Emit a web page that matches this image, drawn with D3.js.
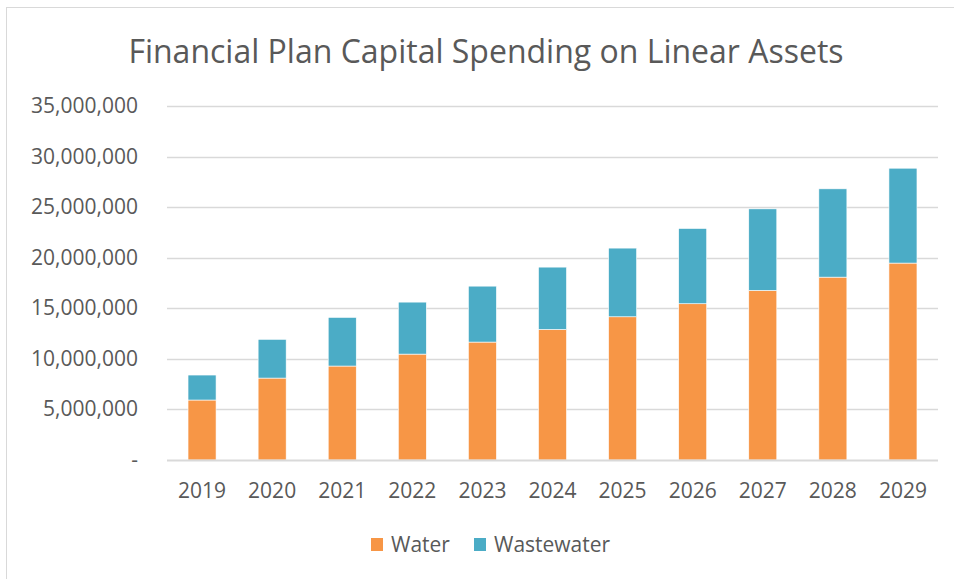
<!DOCTYPE html>
<html>
<head>
<meta charset="utf-8">
<script src="https://cdn.jsdelivr.net/npm/d3@7"></script>
<style>
  body { margin: 0; background: #fff; }
  svg text { font-family: "Open Sans", "Noto Sans", sans-serif; fill: #595959; }
</style>
</head>
<body>
<script>
// Data
const years = ["2019", "2020", "2021", "2022", "2023", "2024", "2025", "2026", "2027", "2028", "2029"];
const water = [5930000, 8100000, 9290000, 10470000, 11660000, 12910000, 14160000, 15450000, 16770000, 18080000, 19470000];
const wastewater = [2470000, 3830000, 4810000, 5140000, 5530000, 6160000, 6790000, 7440000, 8060000, 8730000, 9380000];
const yTicks = [0, 5000000, 10000000, 15000000, 20000000, 25000000, 30000000, 35000000];
const seriesNames = ["Water", "Wastewater"];
const colors = ["#F79646", "#4BACC6"];

const width = 954, height = 579;
const margin = { top: 106, right: 16, bottom: 119, left: 167 };

const svg = d3.select("body").append("svg")
    .attr("width", width)
    .attr("height", height);

// Chart border
svg.append("rect")
    .attr("x", 6.5).attr("y", 7.5)
    .attr("width", 1000).attr("height", 1000)
    .attr("fill", "none")
    .attr("stroke", "#d9d9d9");

// Title
svg.append("text")
    .attr("x", 486)
    .attr("y", 63)
    .attr("text-anchor", "middle")
    .style("font-size", "32px")
    .text("Financial Plan Capital Spending on Linear Assets");

const x = d3.scaleBand()
    .domain(years)
    .range([margin.left, width - margin.right])
    .paddingInner(0.6)
    .paddingOuter(0.3);

const y = d3.scaleLinear()
    .domain([0, 35000000])
    .range([height - margin.bottom, margin.top]);

// Gridlines
svg.append("g")
    .selectAll("line")
    .data(yTicks.slice(1))
    .join("line")
    .attr("x1", margin.left)
    .attr("x2", width - margin.right)
    .attr("y1", d => Math.round(y(d)) + 0.5)
    .attr("y2", d => Math.round(y(d)) + 0.5)
    .attr("stroke", "#d9d9d9")
    .attr("stroke-width", 1.3);

// Stack the two series
const rows = years.map((yr, i) => ({ year: yr, Water: water[i], Wastewater: wastewater[i] }));
const stack = d3.stack().keys(seriesNames);
const stacked = stack(rows);

svg.append("g")
    .selectAll("g")
    .data(stacked)
    .join("g")
    .attr("fill", (d, i) => colors[i])
    .selectAll("rect")
    .data(d => d)
    .join("rect")
    .attr("x", d => x(d.data.year))
    .attr("width", x.bandwidth())
    .attr("y", d => y(d[1]))
    .attr("height", d => y(d[0]) - y(d[1]))
    .attr("stroke", "#fff")
    .attr("stroke-width", 0.6);

// Baseline
svg.append("line")
    .attr("x1", margin.left)
    .attr("x2", width - margin.right)
    .attr("y1", y(0) + 0.5)
    .attr("y2", y(0) + 0.5)
    .attr("stroke", "#d9d9d9")
    .attr("stroke-width", 2);

// Y axis labels
const fmt = d3.format(",");
svg.append("g")
    .selectAll("text")
    .data(yTicks)
    .join("text")
    .attr("x", 138)
    .attr("y", d => y(d) + 7)
    .attr("text-anchor", "end")
    .style("font-size", "21px")
    .text(d => d === 0 ? "-" : fmt(d));

// X axis labels
svg.append("g")
    .selectAll("text")
    .data(years)
    .join("text")
    .attr("x", d => x(d) + x.bandwidth() / 2)
    .attr("y", 498)
    .attr("text-anchor", "middle")
    .style("font-size", "21px")
    .text(d => d);

// Legend
const legendX = [371, 474];
const legend = svg.append("g")
    .selectAll("g")
    .data(seriesNames)
    .join("g")
    .attr("transform", (d, i) => `translate(${legendX[i]}, 538)`);

legend.append("rect")
    .attr("width", 12)
    .attr("height", 13)
    .attr("fill", (d, i) => colors[i]);

legend.append("text")
    .attr("x", 20)
    .attr("y", 14)
    .style("font-size", "21px")
    .text(d => d);
</script>
</body>
</html>
